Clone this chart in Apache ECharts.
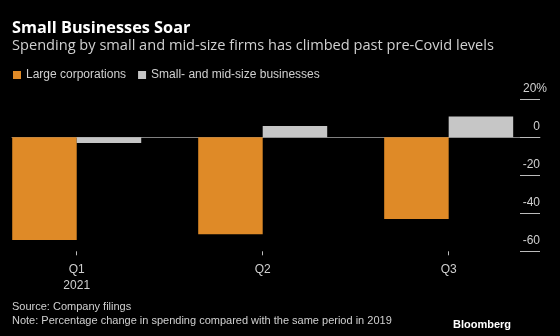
<!DOCTYPE html>
<html>
<head>
<meta charset="utf-8">
<script src="https://cdn.jsdelivr.net/npm/echarts@6/dist/echarts.min.js"></script>
<style>
  html, body { margin: 0; padding: 0; background: #000; }
  #chart { width: 560px; height: 336px; }
</style>
</head>
<body>
<div id="chart"></div>
<script>
// Quarterly spending change vs. the same period in 2019 (%)
const quarters = ['Q1\n2021', 'Q2', 'Q3'];
const quarterPos = [0, 1, 2];
const largeCorps = [-54, -51, -43];
const smallMid = [-3, 6, 11];
const yTicks = [-60, -40, -20, 0, 20];
const seriesNames = ['Large corporations', 'Small- and mid-size businesses'];

const FONT = '"Liberation Sans", Arial, sans-serif';
const HEAD_FONT = '"Open Sans", "Liberation Sans", sans-serif';
const ORANGE = '#DF8A27';
const GREY = '#C6C6C6';
const TEXT = '#D0D0D0';

const chart = echarts.init(document.getElementById('chart'), null, { renderer: 'canvas' });

const toPoints = (vals) => vals.map((v, i) => [quarterPos[i], v]);

chart.setOption({
  backgroundColor: '#000',
  animation: false,
  textStyle: { fontFamily: FONT },
  graphic: [
    { type: 'text', left: 12, top: 20, style: { text: 'Small Businesses Soar', fill: '#FFFFFF', font: 'bold 16.3px ' + HEAD_FONT } },
    { type: 'text', left: 12, top: 38, style: { text: 'Spending by small and mid-size firms has climbed past pre-Covid levels', fill: TEXT, font: '14.6px ' + HEAD_FONT } },
    { type: 'text', left: 12, top: 301.5, style: { text: 'Source: Company filings', fill: TEXT, font: '11px ' + FONT } },
    { type: 'text', left: 12, top: 315.5, style: { text: 'Note: Percentage change in spending compared with the same period in 2019', fill: TEXT, font: '11px ' + FONT } },
    { type: 'text', right: 49, top: 319, style: { text: 'Bloomberg', fill: '#FFFFFF', font: 'bold 11px ' + FONT } }
  ],
  legend: {
    left: 8,
    top: 64,
    icon: 'rect',
    itemWidth: 8,
    itemHeight: 8,
    itemGap: 12,
    textStyle: { color: TEXT, fontSize: 12, fontFamily: FONT },
    data: seriesNames
  },
  grid: { left: 12, right: 20, top: 99.3, height: 152, containLabel: false },
  xAxis: [
    {
      type: 'value',
      min: -0.348,
      max: 2.491,
      position: 'bottom',
      axisLine: { show: false, onZero: false },
      splitLine: { show: false },
      axisTick: { show: true, length: 4, customValues: quarterPos, lineStyle: { color: '#BBBBBB' } },
      axisLabel: {
        customValues: quarterPos,
        color: TEXT,
        fontSize: 12,
        lineHeight: 16,
        margin: 10,
        formatter: (v) => quarters[Math.round(v)]
      }
    },
    {
      type: 'value',
      min: -0.348,
      max: 2.491,
      axisLine: { show: true, onZero: true, lineStyle: { color: '#808080', width: 1 } },
      axisTick: { show: false },
      axisLabel: { show: false },
      splitLine: { show: false }
    }
  ],
  yAxis: {
    type: 'value',
    position: 'right',
    min: -60,
    max: 20,
    interval: 20,
    axisLine: { show: false, onZero: false },
    splitLine: { show: false },
    axisTick: { show: true, inside: true, length: 20, lineStyle: { color: '#BBBBBB' } },
    axisLabel: {
      color: TEXT,
      fontSize: 12,
      align: 'right',
      verticalAlign: 'bottom',
      margin: 7,
      padding: [0, 0, 5, 0],
      formatter: (v) => (v === 20 ? '20%' : '{n|' + v + '}'),
      rich: { n: { color: TEXT, fontSize: 12, fontFamily: FONT, padding: [0, 7, 0, 0] } }
    }
  },
  series: [
    {
      name: seriesNames[0],
      type: 'bar',
      xAxisIndex: 0,
      data: toPoints(largeCorps),
      barWidth: 64.5,
      barGap: '0%',
      itemStyle: { color: ORANGE }
    },
    {
      name: seriesNames[1],
      type: 'bar',
      xAxisIndex: 0,
      data: toPoints(smallMid),
      barWidth: 64.5,
      barGap: '0%',
      itemStyle: { color: GREY }
    }
  ]
});
</script>
</body>
</html>
